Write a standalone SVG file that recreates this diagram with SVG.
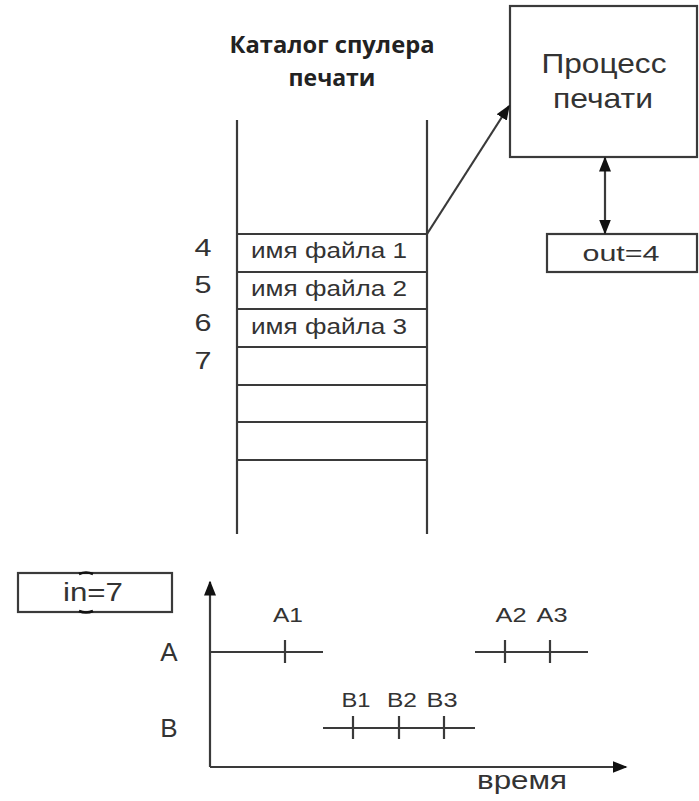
<svg xmlns="http://www.w3.org/2000/svg" width="699" height="801" viewBox="0 0 699 801">
<style>
.ln{stroke:#3a3a3a;stroke-width:2.2;fill:none}
.bx{stroke:#3a3a3a;stroke-width:2.2;fill:#fff}
.t{font-family:"Liberation Sans",Arial,sans-serif;fill:#333}
.tb{font-family:"Open Sans","Liberation Sans",sans-serif;font-weight:bold;fill:#222}
</style>
<defs>
<marker id="ah2" viewBox="0 0 10 10" refX="9" refY="5" markerWidth="15" markerHeight="15" markerUnits="userSpaceOnUse" orient="auto-start-reverse"><path d="M0,1 L10,5 L0,9 z" fill="#111"/></marker>
</defs>
<rect width="699" height="801" fill="#fff"/>
<g id="title">
<text class="tb" x="332" y="53" font-size="23" text-anchor="middle" textLength="205" lengthAdjust="spacingAndGlyphs">Каталог спулера</text>
<text class="tb" x="332" y="86" font-size="23" text-anchor="middle">печати</text>
</g>
<g id="spooler">
<line class="ln" x1="237" y1="120" x2="237" y2="534"/>
<line class="ln" x1="427" y1="120" x2="427" y2="534"/>
<line class="ln" x1="237" y1="234" x2="427" y2="234"/>
<line class="ln" x1="237" y1="272" x2="427" y2="272"/>
<line class="ln" x1="237" y1="309" x2="427" y2="309"/>
<line class="ln" x1="237" y1="347" x2="427" y2="347"/>
<line class="ln" x1="237" y1="385" x2="427" y2="385"/>
<line class="ln" x1="237" y1="422" x2="427" y2="422"/>
<line class="ln" x1="237" y1="460" x2="427" y2="460"/>
<text class="t" x="251" y="258" font-size="22" textLength="156" lengthAdjust="spacingAndGlyphs">имя файла 1</text>
<text class="t" x="251" y="296" font-size="22" textLength="156" lengthAdjust="spacingAndGlyphs">имя файла 2</text>
<text class="t" x="251" y="334" font-size="22" textLength="156" lengthAdjust="spacingAndGlyphs">имя файла 3</text>
<text class="t" x="203" y="256" font-size="23" text-anchor="middle" textLength="17" lengthAdjust="spacingAndGlyphs">4</text>
<text class="t" x="203" y="293" font-size="23" text-anchor="middle" textLength="17" lengthAdjust="spacingAndGlyphs">5</text>
<text class="t" x="203" y="331" font-size="23" text-anchor="middle" textLength="17" lengthAdjust="spacingAndGlyphs">6</text>
<text class="t" x="203" y="369" font-size="23" text-anchor="middle" textLength="17" lengthAdjust="spacingAndGlyphs">7</text>
</g>
<g id="process">
<rect class="bx" x="510" y="6" width="187" height="151"/>
<text class="t" x="604" y="73" font-size="28" text-anchor="middle" textLength="125" lengthAdjust="spacingAndGlyphs">Процесс</text>
<text class="t" x="603" y="108" font-size="28" text-anchor="middle" textLength="100" lengthAdjust="spacingAndGlyphs">печати</text>
</g>
<g id="out">
<rect class="bx" x="547" y="234" width="150" height="38"/>
<text class="t" x="621" y="261" font-size="22" text-anchor="middle" textLength="77" lengthAdjust="spacingAndGlyphs">out=4</text>
</g>
<g id="in">
<rect class="bx" x="18" y="573" width="154" height="39"/>
<text class="t" x="93" y="601" font-size="25" text-anchor="middle" textLength="60" lengthAdjust="spacingAndGlyphs">in=7</text>
<path d="M79,574 Q86,571 93,574" stroke="#111" stroke-width="2.5" fill="none"/>
<path d="M79,611 Q86,614 93,611" stroke="#111" stroke-width="2.5" fill="none"/>
</g>
<g id="connectors">
<line class="ln" x1="427" y1="234" x2="509" y2="106" stroke-width="1.6" marker-end="url(#ah2)"/>
<line class="ln" x1="605" y1="158" x2="605" y2="233" stroke-width="1.6" marker-start="url(#ah2)" marker-end="url(#ah2)"/>
</g>
<g id="chart">
<line class="ln" x1="210" y1="767" x2="210" y2="582" marker-end="url(#ah2)"/>
<line class="ln" x1="210" y1="767" x2="626" y2="767" marker-end="url(#ah2)"/>
<text class="t" x="169" y="661" font-size="26" text-anchor="middle">A</text>
<text class="t" x="169" y="737" font-size="26" text-anchor="middle">B</text>
<line class="ln" x1="210" y1="652" x2="323" y2="652"/>
<line class="ln" x1="285" y1="640" x2="285" y2="663"/>
<line class="ln" x1="475" y1="652" x2="588" y2="652"/>
<line class="ln" x1="505" y1="640" x2="505" y2="663"/>
<line class="ln" x1="550" y1="640" x2="550" y2="663"/>
<line class="ln" x1="323" y1="728" x2="475" y2="728"/>
<line class="ln" x1="353" y1="716" x2="353" y2="739"/>
<line class="ln" x1="399" y1="716" x2="399" y2="739"/>
<line class="ln" x1="444" y1="716" x2="444" y2="739"/>
<text class="t" x="288" y="622" font-size="20" text-anchor="middle" textLength="30" lengthAdjust="spacingAndGlyphs">A1</text>
<text class="t" x="511" y="622" font-size="20" text-anchor="middle" textLength="31" lengthAdjust="spacingAndGlyphs">A2</text>
<text class="t" x="552" y="622" font-size="20" text-anchor="middle" textLength="31" lengthAdjust="spacingAndGlyphs">A3</text>
<text class="t" x="356" y="707" font-size="20" text-anchor="middle" textLength="29" lengthAdjust="spacingAndGlyphs">B1</text>
<text class="t" x="402" y="707" font-size="20" text-anchor="middle" textLength="30" lengthAdjust="spacingAndGlyphs">B2</text>
<text class="t" x="442" y="707" font-size="20" text-anchor="middle" textLength="31" lengthAdjust="spacingAndGlyphs">B3</text>
<text class="t" x="522" y="789" font-size="25" text-anchor="middle" textLength="90" lengthAdjust="spacingAndGlyphs">время</text>
</g>
</svg>
